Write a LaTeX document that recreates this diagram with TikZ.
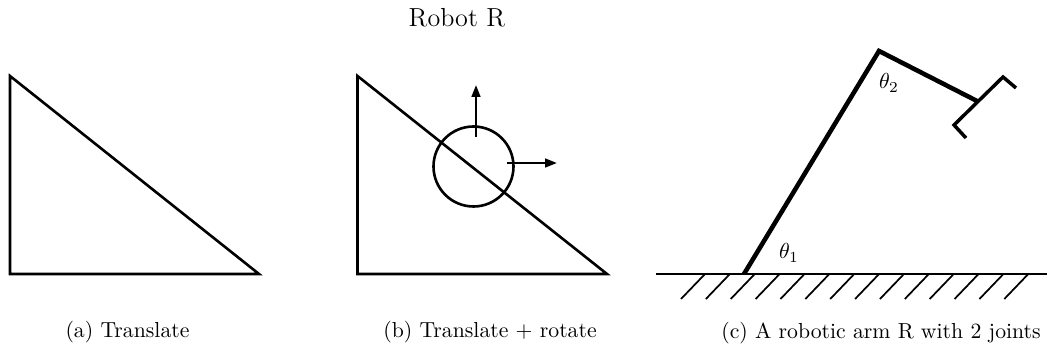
\documentclass[tikz,border=0pt]{standalone}
\usepackage{tikz}
\usetikzlibrary{arrows.meta}

\begin{document}
\begin{tikzpicture}[x=0.46pt, y=-0.46pt,
  body/.style={line width=1.2pt, line join=miter},
  link/.style={line width=2.1pt},
  grip/.style={line width=1.6pt},
  arr/.style={-{Triangle[length=5.5pt, width=4pt]}, line width=1.1pt},
  hatch/.style={line width=0.8pt},
  lbl/.style={inner sep=0pt}
]
\useasboundingbox (0,0) rectangle (1047,349);
\node[lbl, font=\large] (title) at (457,18) {Robot R};
% --- Left panel: translate ---
\coordinate (A1) at (10,76);
\coordinate (A2) at (10,274);
\coordinate (A3) at (259,274);
\draw[body] (A1) -- (A2) -- (A3) -- cycle;
\node[lbl] (capA) at (127.5,332) {(a) Translate};
% --- Middle panel: translate + rotate ---
\coordinate (B1) at (357.5,76);
\coordinate (B2) at (357.5,274);
\coordinate (B3) at (607,274);
\draw[body] (B1) -- (B2) -- (B3) -- cycle;
\node[draw, circle, line width=1.2pt, minimum size=36.8pt, inner sep=0pt] (robot) at (473.5,166.5) {};
\coordinate (upS) at (476,137);
\coordinate (upE) at (476,85);
\coordinate (rtS) at (507,163);
\coordinate (rtE) at (557,163);
\draw[arr] (upS) -- (upE);
\draw[arr] (rtS) -- (rtE);
\node[lbl] (capB) at (490,332) {(b) Translate + rotate};
% --- Right panel: robotic arm ---
\coordinate (G1) at (656,274);
\coordinate (G2) at (1047,274);
\draw[body] (G1) -- (G2);
\foreach \i in {0,...,13} {
  \coordinate (hS\i) at ({705+24.87*\i},274);
  \coordinate (hE\i) at ({681+24.87*\i},299);
  \draw[hatch] (hS\i) -- (hE\i);
}
\coordinate (base) at (744,274);
\coordinate (elbow) at (879,51);
\coordinate (wrist) at (977,101);
\draw[link] (base) -- (elbow) -- (wrist);
\coordinate (gL) at (954,125);
\coordinate (gR) at (1003,77);
\coordinate (fL) at (966,138);
\coordinate (fR) at (1016,88);
\draw[grip] (fL) -- (gL) -- (gR) -- (fR);
\node[lbl] (th1) at (789,253) {$\theta_1$};
\node[lbl] (th2) at (889,83) {$\theta_2$};
\node[lbl] (capC) at (881,333) {(c) A robotic arm R with 2 joints};
\end{tikzpicture}
\end{document}
